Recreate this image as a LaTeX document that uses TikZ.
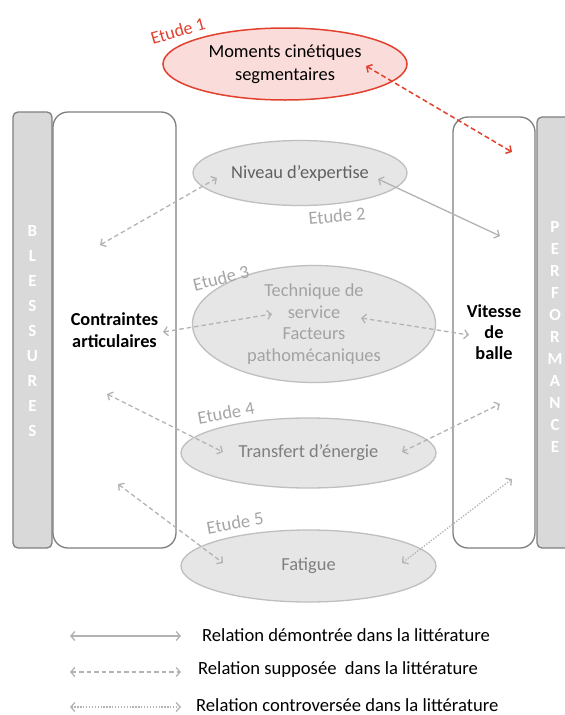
\documentclass[tikz,border=0pt]{standalone}
\usepackage{fontspec}
\setmainfont{Carlito}
\usetikzlibrary{arrows.meta,shapes.geometric}
\definecolor{boxgray}{HTML}{7F7F7F}
\definecolor{barfill}{HTML}{D9D9D9}
\definecolor{ovalfill}{HTML}{E6E6E6}
\definecolor{ovalline}{HTML}{BFBFBF}
\definecolor{arrowgray}{HTML}{B3B3B3}
\definecolor{etudegray}{HTML}{A6A6A6}
\definecolor{ovaltext}{HTML}{7F7F7F}
\definecolor{redline}{HTML}{E2412F}
\definecolor{redfill}{HTML}{FADCDA}
\begin{document}
\begin{tikzpicture}[x=1pt,y=-1pt,
  bar/.style={draw=boxgray, fill=barfill, line width=1.3pt, rounded corners=5pt, inner sep=0pt},
  panel/.style={draw=boxgray, fill=white, line width=1.3pt, rounded corners=15pt, inner sep=0pt, align=center, font=\fontsize{18.3}{#1}\selectfont\bfseries},
  letters/.style={text=white, align=center, inner sep=0pt, font=\fontsize{17}{#1}\selectfont\bfseries},
  oval/.style={ellipse, draw=ovalline, fill=ovalfill, line width=1.3pt, inner sep=0pt, align=center, text=ovaltext, font=\fontsize{18.4}{21.7}\selectfont},
  etude/.style={text=etudegray, inner sep=0pt, font=\fontsize{18.5}{20}\selectfont},
  >={Straight Barb[length=4pt,width=9pt]},
  rel/.style={draw=arrowgray, line width=1.3pt, <->},
  supp/.style={rel, dash pattern=on 4.5pt off 3pt},
  contr/.style={rel, dash pattern=on 1.3pt off 1.6pt},
  legend/.style={anchor=west, inner sep=0pt, font=\fontsize{18.6}{20}\selectfont}
]
\clip (0,0) rectangle (565,715);
\fill[white] (0,0) rectangle (565,715);

% side bars and panels
\node[bar, minimum width=39pt, minimum height=436pt] (bles) at (32.5,330) {};
\node[letters=25pt] (blestxt) at (32.5,331) {B\\L\\E\\S\\S\\U\\R\\E\\S};
\node[panel=22pt, minimum width=123pt, minimum height=436pt] (contr) at (114.5,330) {Contraintes\\articulaires};

\node[bar, minimum width=48pt, minimum height=431pt] (perf) at (561,332.5) {};
\node[letters=22pt] (perftxt) at (555,337) {P\\E\\R\\F\\O\\R\\M\\A\\N\\C\\E};
\node[panel=21pt, minimum width=82pt, minimum height=431pt] (vit) at (494,332.5) {Vitesse\\de\\balle};

% top red ellipse
\node[ellipse, draw=redline, fill=redfill, line width=1.5pt, inner sep=0pt, align=center,
      minimum width=244pt, minimum height=72pt, font=\fontsize{18.4}{23}\selectfont] (mom) at (285,64)
      {Moments cinétiques\\segmentaires};
\node[text=redline, inner sep=0pt, rotate=16, font=\fontsize{18}{20}\selectfont] (e1) at (178,31) {Etude 1};

% gray ellipses
\node[oval, minimum width=214pt, minimum height=65pt, text=black!62] (niv) at (300,173) {Niveau d’expertise};
\node[etude, rotate=5] (e2) at (337,216) {Etude 2};

\node[oval, minimum width=243pt, minimum height=117pt, text=black!36] (tech) at (314,324)
  {Technique de\\service\\Facteurs\\pathomécaniques};
\node[etude, rotate=14] (e3) at (221,278) {Etude 3};

\node[oval, minimum width=255pt, minimum height=70pt] (trans) at (308.5,453) {Transfert d’énergie};
\node[etude, rotate=10] (e4) at (226,413) {Etude 4};

\node[oval, minimum width=255pt, minimum height=72pt] (fat) at (308.5,566) {Fatigue};
\node[etude, rotate=10] (e5) at (235,523) {Etude 5};

% arrow end points
\coordinate (r1) at (366,66);   \coordinate (r2) at (512,152);
\coordinate (n1) at (100,245);  \coordinate (n2) at (217,178);
\coordinate (n3) at (378,179);  \coordinate (n4) at (500,236);
\coordinate (t1) at (163,332);  \coordinate (t2) at (272,314);
\coordinate (t3) at (361,318);  \coordinate (t4) at (469,335);
\coordinate (f1) at (107,394);  \coordinate (f2) at (223,452);
\coordinate (f3) at (402,452);  \coordinate (f4) at (500,404);
\coordinate (g1) at (118,484);  \coordinate (g2) at (223,563);
\coordinate (g3) at (402,563);  \coordinate (g4) at (512,479);

\draw[draw=redline, line width=1.5pt, dash pattern=on 5pt off 3pt, <->] (r1) -- (r2);
\draw[supp] (n1) -- (n2);
\draw[rel] (n3) -- (n4);
\draw[supp] (t1) -- (t2);
\draw[supp] (t3) -- (t4);
\draw[supp] (f1) -- (f2);
\draw[supp] (f3) -- (f4);
\draw[supp] (g1) -- (g2);
\draw[contr] (g3) -- (g4);

% legend
\coordinate (la1) at (70,636);  \coordinate (la2) at (181,636);
\coordinate (lb1) at (70,672);  \coordinate (lb2) at (181,672);
\coordinate (lc1) at (70,707);  \coordinate (lc2) at (181,707);
\draw[rel] (la1) -- (la2);
\draw[supp] (lb1) -- (lb2);
\draw[contr] (lc1) -- (lc2);
\node[legend] (ta) at (202,635) {Relation démontrée dans la littérature};
\node[legend] (tb) at (198,670) {Relation supposée\ \ dans la littérature};
\node[legend] (tc) at (196,705) {Relation controversée dans la littérature};
\end{tikzpicture}
\end{document}
